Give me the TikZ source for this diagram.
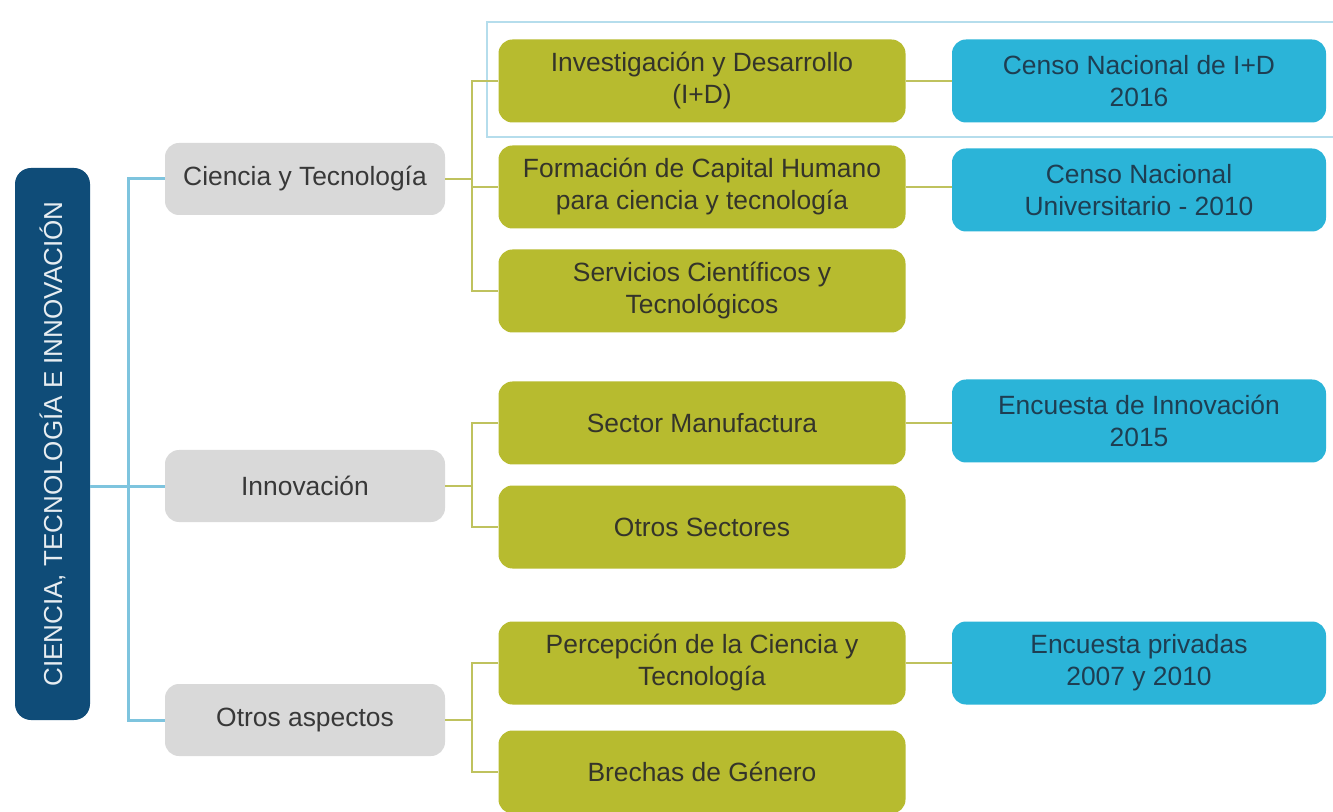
\documentclass[tikz,border=0pt]{standalone}
\usepackage{fontspec}
\setmainfont{Liberation Sans}
\definecolor{rootblue}{HTML}{0F4C78}
\definecolor{lineblue}{HTML}{7EC4DE}
\definecolor{olivebox}{HTML}{B7BB2F}
\definecolor{oliveline}{HTML}{BFC25E}
\definecolor{cyanbox}{HTML}{2BB4D8}
\definecolor{greybox}{HTML}{D9D9D9}
\definecolor{hilite}{HTML}{B5DDEC}
\definecolor{txtdark}{HTML}{34342A}
\definecolor{txtcyan}{HTML}{1E3E52}
\begin{document}
\begin{tikzpicture}[x=0.5pt,y=-0.5pt,
  box/.style={rounded corners=7pt, align=center, inner sep=0pt, font=\fontsize{13.2}{16}\selectfont},
  greyb/.style={box, fill=greybox, minimum width=140pt, minimum height=36pt, text=black!78},
  oliveb/.style={box, fill=olivebox, minimum width=203.5pt, minimum height=41.5pt, text=txtdark},
  cyanb/.style={box, fill=cyanbox, minimum width=187pt, minimum height=41.5pt, text=txtcyan},
  rootb/.style={rounded corners=8pt, fill=rootblue, minimum width=276pt, minimum height=37.5pt, inner sep=0pt, text=white!90!rootblue, font=\fontsize{13}{16}\selectfont, rotate=90},
  bl/.style={draw=lineblue, line width=1.5pt},
  ol/.style={draw=oliveline, line width=1pt},
  hl/.style={draw=hilite, line width=0.8pt}]
\useasboundingbox (0,0) rectangle (1333,812);
\fill[white] (0,0) rectangle (1333,812);
% highlight frame
\draw[hl] (1340,22) -- (487,22) -- (487,137) -- (1340,137);
% root
\node[rootb] (root) at (52.5,444) {CIENCIA, TECNOLOGÍA E INNOVACIÓN};
% grey
\node[greyb] (gC) at (305,179) {Ciencia y Tecnología};
\node[greyb] (gI) at (305,486) {Innovación};
\node[greyb] (gO) at (305,720) {Otros aspectos};
% olive
\node[oliveb] (oID) at (702,81) {Investigación y Desarrollo\\(I+D)};
\node[oliveb] (oFor) at (702,187) {Formación de Capital Humano\\para ciencia y tecnología};
\node[oliveb] (oSer) at (702,291) {Servicios Científicos y\\Tecnológicos};
\node[oliveb] (oMan) at (702,423) {Sector Manufactura};
\node[oliveb] (oOtr) at (702,527) {Otros Sectores};
\node[oliveb] (oPer) at (702,663) {Percepción de la Ciencia y\\Tecnología};
\node[oliveb] (oBre) at (702,772) {Brechas de Género};
% cyan
\node[cyanb] (cID) at (1139,81) {Censo Nacional de I+D\\2016};
\node[cyanb] (cUni) at (1139,190) {Censo Nacional\\Universitario - 2010};
\node[cyanb] (cInn) at (1139,421) {Encuesta de Innovación\\2015};
\node[cyanb] (cPri) at (1139,663) {Encuesta privadas\\2007 y 2010};
% blue connectors
\coordinate (bx) at (128,0);
\draw[bl] (gC.west) -| (bx |- gO.west) -- (gO.west);
\draw[bl] (gI.west -| root.south) -- (gI.west);
% olive connectors
\coordinate (ox) at (472,0);
\draw[ol] (gC.east) -- (ox |- gC.east);
\draw[ol] (oID.west) -| (ox |- oSer.west) -- (oSer.west);
\draw[ol] (oFor.west) -- (ox |- oFor.west);
\draw[ol] (gI.east) -- (ox |- gI.east);
\draw[ol] (oMan.west) -| (ox |- oOtr.west) -- (oOtr.west);
\draw[ol] (gO.east) -- (ox |- gO.east);
\draw[ol] (oPer.west) -| (ox |- oBre.west) -- (oBre.west);
\draw[ol] (oID.east) -- (cID.west);
\draw[ol] (oFor.east) -- (oFor.east -| cUni.west);
\draw[ol] (oMan.east) -- (oMan.east -| cInn.west);
\draw[ol] (oPer.east) -- (cPri.west);
\end{tikzpicture}
\end{document}
